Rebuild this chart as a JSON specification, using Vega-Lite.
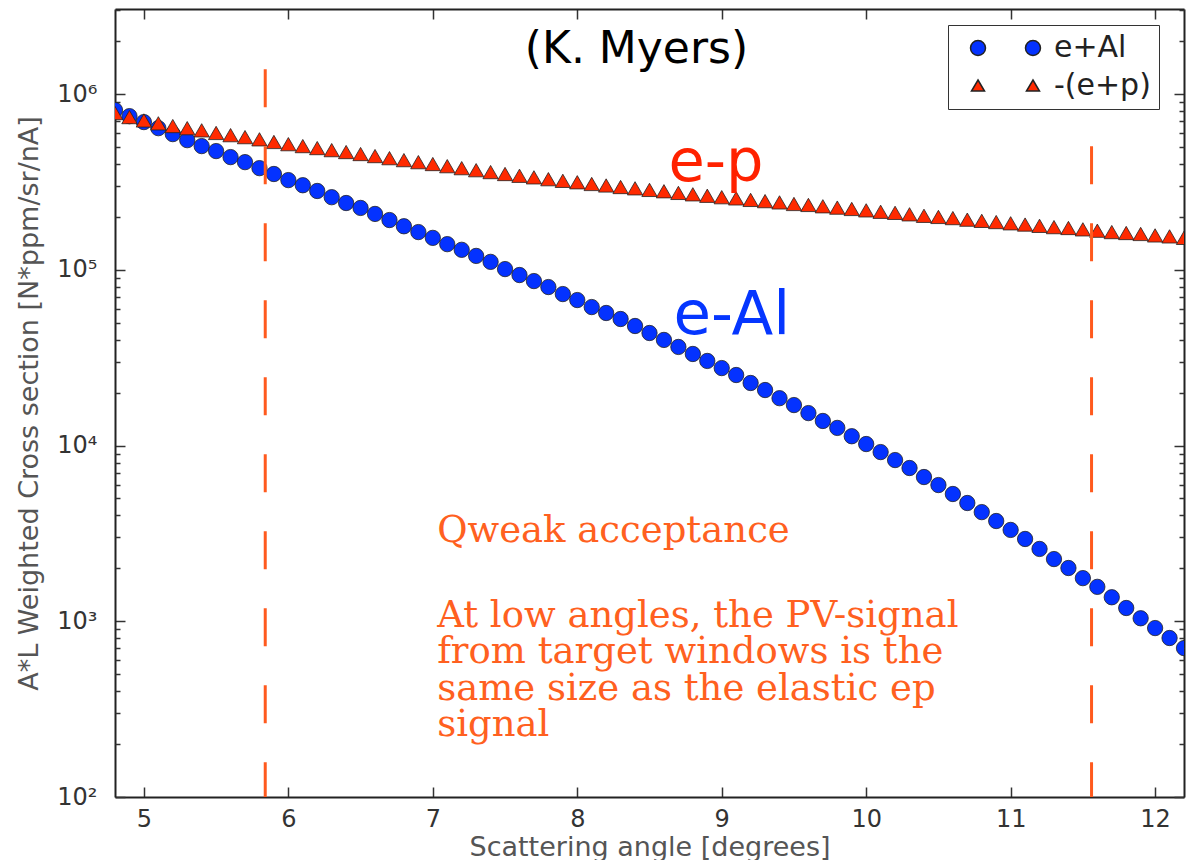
{
  "$schema": "https://vega.github.io/schema/vega-lite/v6.json",
  "width": 1069,
  "height": 788,
  "autosize": {"type": "none"},
  "padding": {"left": 115, "top": 9, "right": 6, "bottom": 63},
  "background": "white",
  "config": {
    "view": {"stroke": null},
    "axis": {
      "grid": false,
      "domainColor": "#222",
      "domainWidth": 2,
      "tickColor": "#333",
      "tickWidth": 1.5,
      "labelFont": "DejaVu Sans",
      "labelFontSize": 24,
      "labelColor": "#333",
      "titleFont": "DejaVu Sans",
      "titleFontSize": 27,
      "titleFontWeight": "normal",
      "titleColor": "#555"
    }
  },
  "datasets": {
    "curves": [
      {"angle":4.8,"series":"e+Al","xs":811000},{"angle":4.9,"series":"e+Al","xs":749000},{"angle":5.0,"series":"e+Al","xs":693000},{"angle":5.1,"series":"e+Al","xs":640000},{"angle":5.2,"series":"e+Al","xs":592000},{"angle":5.3,"series":"e+Al","xs":547000},{"angle":5.4,"series":"e+Al","xs":506000},{"angle":5.5,"series":"e+Al","xs":474000},{"angle":5.6,"series":"e+Al","xs":438000},{"angle":5.7,"series":"e+Al","xs":410000},{"angle":5.8,"series":"e+Al","xs":379000},{"angle":5.9,"series":"e+Al","xs":351000},{"angle":6.0,"series":"e+Al","xs":324000},{"angle":6.1,"series":"e+Al","xs":303000},{"angle":6.2,"series":"e+Al","xs":281000},{"angle":6.3,"series":"e+Al","xs":259000},{"angle":6.4,"series":"e+Al","xs":240000},{"angle":6.5,"series":"e+Al","xs":225000},{"angle":6.6,"series":"e+Al","xs":208000},{"angle":6.7,"series":"e+Al","xs":192000},{"angle":6.8,"series":"e+Al","xs":177000},{"angle":6.9,"series":"e+Al","xs":164000},{"angle":7.0,"series":"e+Al","xs":152000},{"angle":7.1,"series":"e+Al","xs":140000},{"angle":7.2,"series":"e+Al","xs":130000},{"angle":7.3,"series":"e+Al","xs":120000},{"angle":7.4,"series":"e+Al","xs":111000},{"angle":7.5,"series":"e+Al","xs":101000},{"angle":7.6,"series":"e+Al","xs":93400},{"angle":7.7,"series":"e+Al","xs":86300},{"angle":7.8,"series":"e+Al","xs":79800},{"angle":7.9,"series":"e+Al","xs":72800},{"angle":8.0,"series":"e+Al","xs":67300},{"angle":8.1,"series":"e+Al","xs":61400},{"angle":8.2,"series":"e+Al","xs":56800},{"angle":8.3,"series":"e+Al","xs":52500},{"angle":8.4,"series":"e+Al","xs":47900},{"angle":8.5,"series":"e+Al","xs":43700},{"angle":8.6,"series":"e+Al","xs":39900},{"angle":8.7,"series":"e+Al","xs":36400},{"angle":8.8,"series":"e+Al","xs":33200},{"angle":8.9,"series":"e+Al","xs":30300},{"angle":9.0,"series":"e+Al","xs":27600},{"angle":9.1,"series":"e+Al","xs":25200},{"angle":9.2,"series":"e+Al","xs":22700},{"angle":9.3,"series":"e+Al","xs":20700},{"angle":9.4,"series":"e+Al","xs":18600},{"angle":9.5,"series":"e+Al","xs":17000},{"angle":9.6,"series":"e+Al","xs":15300},{"angle":9.7,"series":"e+Al","xs":13800},{"angle":9.8,"series":"e+Al","xs":12600},{"angle":9.9,"series":"e+Al","xs":11300},{"angle":10.0,"series":"e+Al","xs":10200},{"angle":10.1,"series":"e+Al","xs":9180},{"angle":10.2,"series":"e+Al","xs":8270},{"angle":10.3,"series":"e+Al","xs":7450},{"angle":10.4,"series":"e+Al","xs":6620},{"angle":10.5,"series":"e+Al","xs":5960},{"angle":10.6,"series":"e+Al","xs":5300},{"angle":10.7,"series":"e+Al","xs":4710},{"angle":10.8,"series":"e+Al","xs":4180},{"angle":10.9,"series":"e+Al","xs":3720},{"angle":11.0,"series":"e+Al","xs":3310},{"angle":11.1,"series":"e+Al","xs":2940},{"angle":11.2,"series":"e+Al","xs":2580},{"angle":11.3,"series":"e+Al","xs":2260},{"angle":11.4,"series":"e+Al","xs":2010},{"angle":11.5,"series":"e+Al","xs":1760},{"angle":11.6,"series":"e+Al","xs":1570},{"angle":11.7,"series":"e+Al","xs":1370},{"angle":11.8,"series":"e+Al","xs":1190},{"angle":11.9,"series":"e+Al","xs":1040},{"angle":12.0,"series":"e+Al","xs":915},{"angle":12.1,"series":"e+Al","xs":803},{"angle":12.2,"series":"e+Al","xs":704},
      {"angle":4.8,"series":"-(e+p)","xs":780000},{"angle":4.9,"series":"-(e+p)","xs":740000},{"angle":5.0,"series":"-(e+p)","xs":708000},{"angle":5.1,"series":"-(e+p)","xs":682000},{"angle":5.2,"series":"-(e+p)","xs":658000},{"angle":5.3,"series":"-(e+p)","xs":640000},{"angle":5.4,"series":"-(e+p)","xs":622000},{"angle":5.5,"series":"-(e+p)","xs":601000},{"angle":5.6,"series":"-(e+p)","xs":584000},{"angle":5.7,"series":"-(e+p)","xs":569000},{"angle":5.8,"series":"-(e+p)","xs":553000},{"angle":5.9,"series":"-(e+p)","xs":534000},{"angle":6.0,"series":"-(e+p)","xs":519000},{"angle":6.1,"series":"-(e+p)","xs":506000},{"angle":6.2,"series":"-(e+p)","xs":493000},{"angle":6.3,"series":"-(e+p)","xs":480000},{"angle":6.4,"series":"-(e+p)","xs":468000},{"angle":6.5,"series":"-(e+p)","xs":456000},{"angle":6.6,"series":"-(e+p)","xs":444000},{"angle":6.7,"series":"-(e+p)","xs":432000},{"angle":6.8,"series":"-(e+p)","xs":421000},{"angle":6.9,"series":"-(e+p)","xs":410000},{"angle":7.0,"series":"-(e+p)","xs":400000},{"angle":7.1,"series":"-(e+p)","xs":389000},{"angle":7.2,"series":"-(e+p)","xs":379000},{"angle":7.3,"series":"-(e+p)","xs":369000},{"angle":7.4,"series":"-(e+p)","xs":360000},{"angle":7.5,"series":"-(e+p)","xs":351000},{"angle":7.6,"series":"-(e+p)","xs":343000},{"angle":7.7,"series":"-(e+p)","xs":336000},{"angle":7.8,"series":"-(e+p)","xs":328000},{"angle":7.9,"series":"-(e+p)","xs":321000},{"angle":8.0,"series":"-(e+p)","xs":315000},{"angle":8.1,"series":"-(e+p)","xs":308000},{"angle":8.2,"series":"-(e+p)","xs":302000},{"angle":8.3,"series":"-(e+p)","xs":296000},{"angle":8.4,"series":"-(e+p)","xs":291000},{"angle":8.5,"series":"-(e+p)","xs":285000},{"angle":8.6,"series":"-(e+p)","xs":280000},{"angle":8.7,"series":"-(e+p)","xs":274000},{"angle":8.8,"series":"-(e+p)","xs":269000},{"angle":8.9,"series":"-(e+p)","xs":264000},{"angle":9.0,"series":"-(e+p)","xs":259000},{"angle":9.1,"series":"-(e+p)","xs":255000},{"angle":9.2,"series":"-(e+p)","xs":250000},{"angle":9.3,"series":"-(e+p)","xs":246000},{"angle":9.4,"series":"-(e+p)","xs":242000},{"angle":9.5,"series":"-(e+p)","xs":237000},{"angle":9.6,"series":"-(e+p)","xs":234000},{"angle":9.7,"series":"-(e+p)","xs":230000},{"angle":9.8,"series":"-(e+p)","xs":226000},{"angle":9.9,"series":"-(e+p)","xs":222000},{"angle":10.0,"series":"-(e+p)","xs":218000},{"angle":10.1,"series":"-(e+p)","xs":214000},{"angle":10.2,"series":"-(e+p)","xs":211000},{"angle":10.3,"series":"-(e+p)","xs":207000},{"angle":10.4,"series":"-(e+p)","xs":203000},{"angle":10.5,"series":"-(e+p)","xs":200000},{"angle":10.6,"series":"-(e+p)","xs":197000},{"angle":10.7,"series":"-(e+p)","xs":193000},{"angle":10.8,"series":"-(e+p)","xs":190000},{"angle":10.9,"series":"-(e+p)","xs":187000},{"angle":11.0,"series":"-(e+p)","xs":184000},{"angle":11.1,"series":"-(e+p)","xs":181000},{"angle":11.2,"series":"-(e+p)","xs":178000},{"angle":11.3,"series":"-(e+p)","xs":175000},{"angle":11.4,"series":"-(e+p)","xs":173000},{"angle":11.5,"series":"-(e+p)","xs":170000},{"angle":11.6,"series":"-(e+p)","xs":167000},{"angle":11.7,"series":"-(e+p)","xs":164000},{"angle":11.8,"series":"-(e+p)","xs":162000},{"angle":11.9,"series":"-(e+p)","xs":160000},{"angle":12.0,"series":"-(e+p)","xs":157000},{"angle":12.1,"series":"-(e+p)","xs":155000},{"angle":12.2,"series":"-(e+p)","xs":152000}
    ],
    "cuts": [
      {"angle": 5.84, "top": 1387000, "bottom": 100},
      {"angle": 11.56, "top": 1387000, "bottom": 100}
    ]
  },
  "resolve": {"axis": {"x": "independent", "y": "independent"}},
  "layer": [
    {
      "data": {"name": "curves"},
      "transform": [{"filter": "datum.series === 'e+Al'"}],
      "mark": {"type": "point", "shape": "circle", "filled": true, "size": 235, "color": "#0432ff", "stroke": "#222", "strokeWidth": 0.8, "opacity": 1, "clip": true},
      "encoding": {
        "x": {"field": "angle", "type": "quantitative",
              "scale": {"domain": [4.8, 12.2], "nice": false, "zero": false},
              "axis": {"orient": "bottom", "values": [5,6,7,8,9,10,11,12], "tickSize": -10, "labelPadding": 20, "title": "Scattering angle [degrees]", "titlePadding": 3}},
        "y": {"field": "xs", "type": "quantitative",
              "scale": {"type": "log", "domain": [100, 3050000], "nice": false},
              "axis": {"orient": "left", "values": [100,1000,10000,100000,1000000], "tickSize": -10, "labelPadding": 28,
                       "labelExpr": "'10' + ['⁰','¹','²','³','⁴','⁵','⁶','⁷'][round(log(datum.value)/LN10)]",
                       "title": "A*L Weighted Cross section [N*ppm/sr/nA]", "titlePadding": 13}}
      }
    },
    {
      "data": {"name": "curves"},
      "transform": [{"filter": "datum.series === '-(e+p)'"}],
      "mark": {"type": "point", "shape": "triangle-up", "filled": true, "size": 235, "color": "#ff2a00", "stroke": "#222", "strokeWidth": 0.8, "opacity": 1, "clip": true},
      "encoding": {
        "x": {"field": "angle", "type": "quantitative",
              "scale": {"domain": [4.8, 12.2], "nice": false, "zero": false},
              "axis": {"orient": "top", "values": [5,6,7,8,9,10,11,12], "tickSize": -10, "labels": false, "title": null}},
        "y": {"field": "xs", "type": "quantitative",
              "scale": {"type": "log", "domain": [100, 3050000], "nice": false},
              "axis": {"orient": "right", "values": [100,1000,10000,100000,1000000], "tickSize": -10, "labels": false, "title": null}}
      }
    },
    {
      "data": {"values": []},
      "mark": {"type": "point", "filled": true, "stroke": "#222", "strokeWidth": 0.6, "opacity": 1},
      "encoding": {
        "x": {"field": "angle", "type": "quantitative", "scale": {"domain": [4.8, 12.2], "nice": false, "zero": false}, "axis": null},
        "y": {"field": "xs", "type": "quantitative", "scale": {"type": "log", "domain": [100, 3050000], "nice": false}, "axis": null},
        "color": {"field": "series", "type": "nominal",
                  "scale": {"domain": ["e+Al", "-(e+p)"], "range": ["#0432ff", "#ff2a00"]},
                  "legend": {"orient": "none", "legendX": 833, "legendY": 16, "title": null,
                             "labelFont": "DejaVu Sans", "labelFontSize": 30, "labelColor": "#222",
                             "padding": 8, "rowPadding": 8, "symbolSize": 225, "symbolOffset": 7, "labelOffset": 61,
                             "strokeColor": "#333", "fillColor": "white",
                             "encode": {"legend": {"strokeWidth": {"value": 2}}}}},
        "shape": {"field": "series", "type": "nominal",
                  "scale": {"domain": ["e+Al", "-(e+p)"],
                            "range": ["M-1,0A1,1,0,1,0,1,0A1,1,0,1,0,-1,0Z M6.33,0A1,1,0,1,0,8.33,0A1,1,0,1,0,6.33,0Z",
                                      "M0,-0.8L0.87,0.67L-0.87,0.67Z M7.33,-0.8L8.2,0.67L6.46,0.67Z"]},
                  "legend": {"orient": "none", "legendX": 833, "legendY": 16, "title": null,
                             "labelFont": "DejaVu Sans", "labelFontSize": 30, "labelColor": "#222",
                             "padding": 8, "rowPadding": 8, "symbolSize": 225, "symbolOffset": 7, "labelOffset": 61,
                             "strokeColor": "#333", "fillColor": "white",
                             "encode": {"legend": {"strokeWidth": {"value": 2}}}}}
      }
    },
    {
      "data": {"name": "cuts"},
      "mark": {"type": "rule", "color": "#ff5a1e", "strokeWidth": 3, "strokeDash": [38, 39]},
      "encoding": {
        "x": {"field": "angle", "type": "quantitative", "scale": {"domain": [4.8, 12.2], "nice": false, "zero": false}, "axis": null},
        "y": {"field": "top", "type": "quantitative", "scale": {"type": "log", "domain": [100, 3050000], "nice": false}, "axis": null},
        "y2": {"field": "bottom"}
      }
    },
    {
      "data": {"values": [{"angle": 8.41, "xs": 1780000, "label": "(K. Myers)"}]},
      "mark": {"type": "text", "font": "DejaVu Sans", "fontSize": 44, "color": "#000", "align": "center", "baseline": "middle"},
      "encoding": {
        "x": {"field": "angle", "type": "quantitative", "scale": {"domain": [4.8, 12.2], "nice": false, "zero": false}, "axis": null},
        "y": {"field": "xs", "type": "quantitative",
              "scale": {"type": "log", "domain": [100, 3050000], "nice": false},
              "axis": {"orient": "left", "values": [200,300,400,500,600,700,800,900,2000,3000,4000,5000,6000,7000,8000,9000,20000,30000,40000,50000,60000,70000,80000,90000,200000,300000,400000,500000,600000,700000,800000,900000,2000000,3000000], "tickSize": -5, "labels": false, "domain": false, "title": null}},
        "text": {"field": "label"}
      }
    },
    {
      "data": {"values": [{"angle": 8.96, "xs": 320000, "label": "e-p"}]},
      "mark": {"type": "text", "font": "DejaVu Sans", "fontSize": 59, "color": "#ff2200", "align": "center", "baseline": "alphabetic"},
      "encoding": {
        "x": {"field": "angle", "type": "quantitative", "scale": {"domain": [4.8, 12.2], "nice": false, "zero": false}, "axis": null},
        "y": {"field": "xs", "type": "quantitative",
              "scale": {"type": "log", "domain": [100, 3050000], "nice": false},
              "axis": {"orient": "right", "values": [200,300,400,500,600,700,800,900,2000,3000,4000,5000,6000,7000,8000,9000,20000,30000,40000,50000,60000,70000,80000,90000,200000,300000,400000,500000,600000,700000,800000,900000,2000000,3000000], "tickSize": -5, "labels": false, "domain": false, "title": null}},
        "text": {"field": "label"}
      }
    },
    {
      "data": {"values": [{"angle": 9.07, "xs": 43000, "label": "e-Al"}]},
      "mark": {"type": "text", "font": "DejaVu Sans", "fontSize": 61, "color": "#0536ff", "align": "center", "baseline": "alphabetic"},
      "encoding": {
        "x": {"field": "angle", "type": "quantitative", "scale": {"domain": [4.8, 12.2], "nice": false, "zero": false}, "axis": null},
        "y": {"field": "xs", "type": "quantitative", "scale": {"type": "log", "domain": [100, 3050000], "nice": false}, "axis": null},
        "text": {"field": "label"}
      }
    },
    {
      "data": {"values": [
        {"angle": 7.03, "xs": 2825, "label": "Qweak acceptance"},
        {"angle": 7.03, "xs": 928, "label": "At low angles, the PV-signal\nfrom target windows is the\nsame size as the elastic ep\nsignal"}
      ]},
      "mark": {"type": "text", "font": "DejaVu Serif", "fontSize": 37, "color": "#ff6020", "align": "left", "baseline": "alphabetic", "lineBreak": "\n", "lineHeight": 36.5},
      "encoding": {
        "x": {"field": "angle", "type": "quantitative", "scale": {"domain": [4.8, 12.2], "nice": false, "zero": false}, "axis": null},
        "y": {"field": "xs", "type": "quantitative", "scale": {"type": "log", "domain": [100, 3050000], "nice": false}, "axis": null},
        "text": {"field": "label"}
      }
    }
  ]
}
